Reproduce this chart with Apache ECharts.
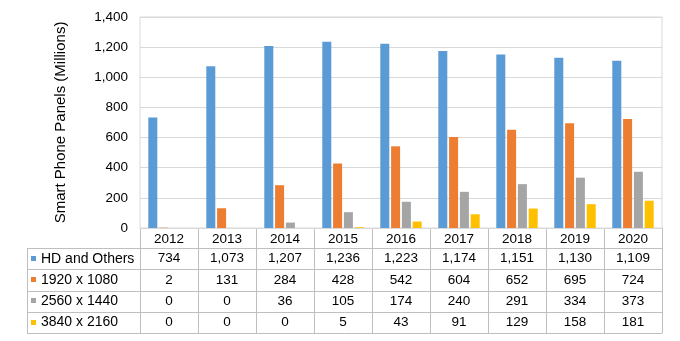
<!DOCTYPE html>
<html><head><meta charset="utf-8">
<script src="https://cdn.jsdelivr.net/npm/echarts@6/dist/echarts.min.js"></script>
<style>html,body{margin:0;padding:0;background:#fff}#c{width:680px;height:341px}</style>
</head><body><div id="c"></div>
<script>
var categories = ['2012','2013','2014','2015','2016','2017','2018','2019','2020'];
var seriesNames = ['HD and Others','1920 x 1080','2560 x 1440','3840 x 2160'];
var hdOthers = [734,1073,1207,1236,1223,1174,1151,1130,1109];
var fhd = [2,131,284,428,542,604,652,695,724];
var qhd = [0,0,36,105,174,240,291,334,373];
var uhd = [0,0,0,5,43,91,129,158,181];
var colors = ['#5B9BD5','#ED7D31','#A5A5A5','#FFC000'];
var yTicks = [0,200,400,600,800,1000,1200,1400];

var allData = [hdOthers, fhd, qhd, uhd];
var FONT = '"Liberation Sans", Arial, sans-serif';
var fmt = function(v){ return Number(v).toLocaleString('en-US'); };

var chart = echarts.init(document.getElementById('c'));
chart.setOption({
  animation: false,
  grid: {left: 140, right: 18, top: 17, bottom: 113, show: true, borderColor: '#D9D9D9', borderWidth: 1},
  xAxis: {
    type: 'category', data: categories,
    axisLine: {lineStyle: {color: '#D9D9D9'}},
    axisTick: {show: false},
    axisLabel: {color: '#000', fontSize: 13.5, fontFamily: FONT, margin: 4}
  },
  yAxis: {
    type: 'value', min: yTicks[0], max: yTicks[yTicks.length-1], interval: 200,
    name: 'Smart Phone Panels (Millions)', nameLocation: 'middle', nameGap: 72,
    nameTextStyle: {color: '#000', fontSize: 15, fontFamily: FONT},
    axisLine: {show: false}, axisTick: {show: false},
    axisLabel: {color: '#000', fontSize: 13.5, fontFamily: FONT, margin: 12, formatter: fmt},
    splitLine: {lineStyle: {color: '#D9D9D9'}}
  },
  series: allData.map(function(d, i){
    return {type: 'bar', name: seriesNames[i], data: d, barWidth: 9, barGap: '20%',
      itemStyle: {color: colors[i]}};
  })
});

// build data table under the axis using the library's scales
var p0 = chart.convertToPixel({xAxisIndex: 0}, 0);
var p1 = chart.convertToPixel({xAxisIndex: 0}, 1);
var step = p1 - p0;
var xStart = p0 - step/2;
var xEnd = xStart + step * categories.length;
var y0 = chart.convertToPixel({yAxisIndex: 0}, 0);
var headerH = 20;
var rowH = 21.3;
var tableLeft = 27;
var lineColor = '#BFBFBF';
var g = [];
function hline(x1, x2, y){ g.push({type:'line', silent:true, shape:{x1:x1,y1:Math.round(y)+0.5,x2:x2,y2:Math.round(y)+0.5}, style:{stroke:lineColor, lineWidth:1}}); }
function vline(x, y1, y2){ g.push({type:'line', silent:true, shape:{x1:Math.round(x)+0.5,y1:y1,x2:Math.round(x)+0.5,y2:y2}, style:{stroke:lineColor, lineWidth:1}}); }
var rowsTop = y0 + headerH;
var tableBottom = rowsTop + rowH * seriesNames.length;
for (var r = 0; r <= seriesNames.length; r++) hline(tableLeft, xEnd, rowsTop + r*rowH);
for (var k = 0; k <= categories.length; k++) vline(xStart + k*step, y0, tableBottom);
vline(tableLeft, rowsTop, tableBottom);
for (var s = 0; s < seriesNames.length; s++) {
  var cy = rowsTop + s*rowH + rowH/2;
  g.push({type:'rect', silent:true, shape:{x:31, y:Math.round(cy)-3, width:5, height:5}, style:{fill:colors[s]}});
  g.push({type:'text', silent:true, style:{text:seriesNames[s], x:41, y:cy, textAlign:'left', textVerticalAlign:'middle', font:'14px ' + FONT, fill:'#000'}});
  for (var c = 0; c < categories.length; c++) {
    g.push({type:'text', silent:true, style:{text:fmt(allData[s][c]), x:xStart + c*step + step/2, y:cy, textAlign:'center', textVerticalAlign:'middle', font:'13.5px ' + FONT, fill:'#000'}});
  }
}
chart.setOption({graphic: g});
</script></body></html>
